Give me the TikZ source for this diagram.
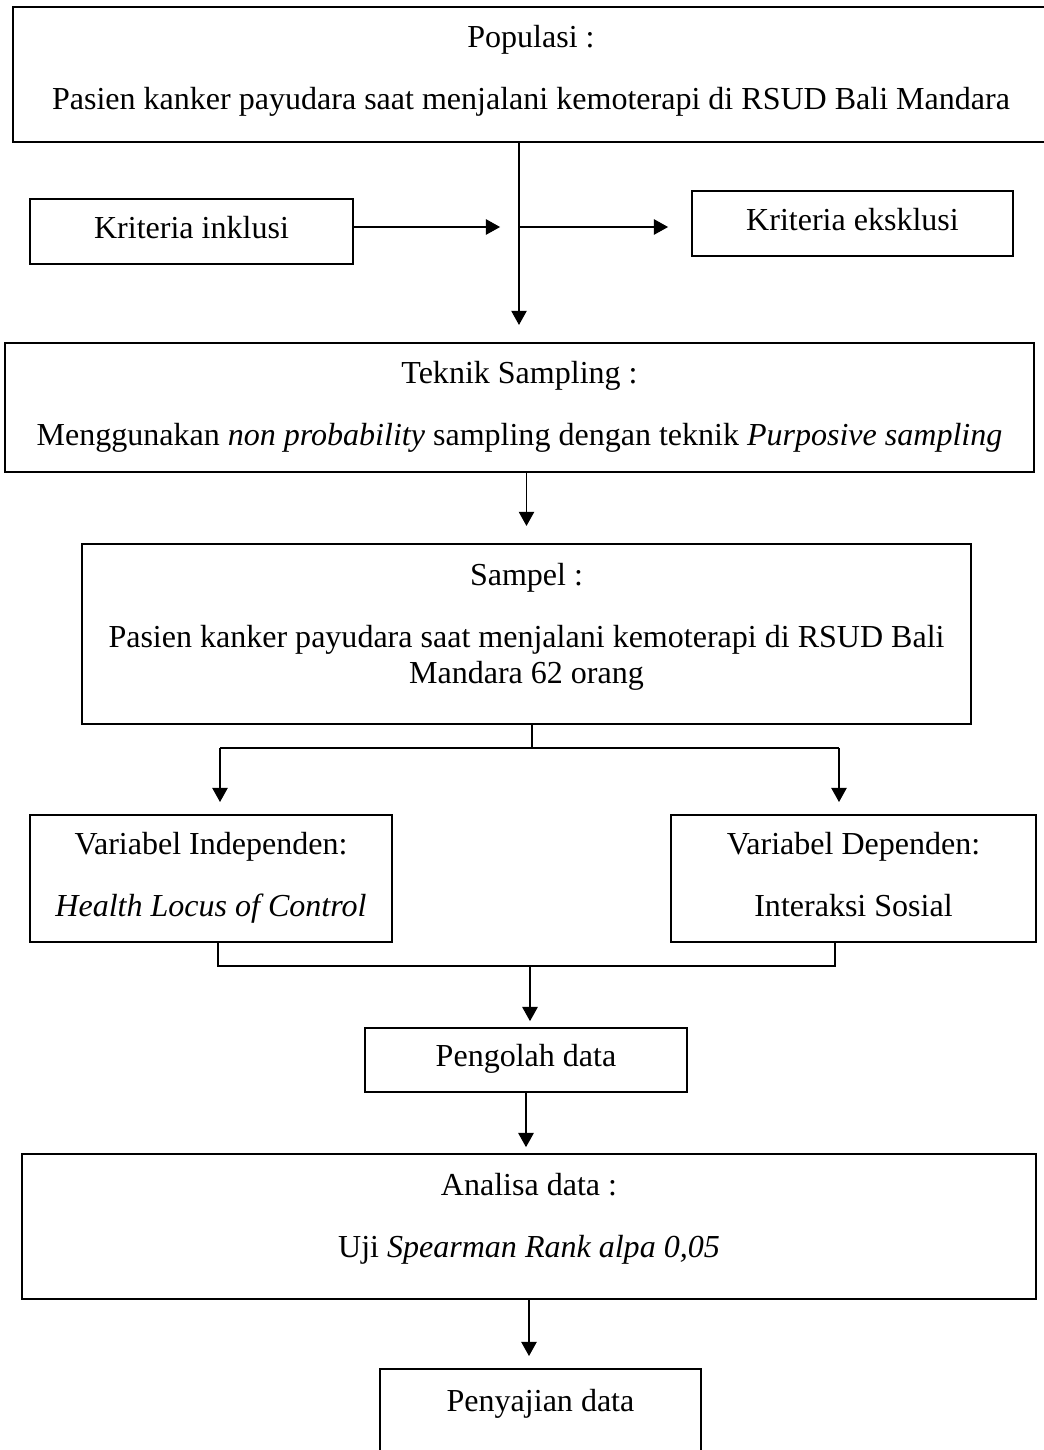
\documentclass[tikz,border=0pt]{standalone}
\usepackage{fontspec}
\setmainfont{Liberation Serif}
\usetikzlibrary{arrows.meta}

% one pixel of the layout grid
\def\pxu{0.3747pt}

\tikzset{
  box/.style={draw, line width=0.75pt, align=center, font=\fontsize{12}{13.5}\selectfont},
  onebox/.style={box, text height=8pt, text depth=3pt},
  link/.style={line width=0.4pt},
  arr/.style={link, -{Triangle[length=5.3pt, width=5.8pt]}}
}

\begin{document}
\begin{tikzpicture}[x=\pxu, y=-\pxu]

\useasboundingbox (0,0) rectangle (1043,1450);

% Boxes
\node[box, minimum width=1036*\pxu, minimum height=135*\pxu, text depth=5.6pt] (pop) at (531,74.5)
    {Populasi :\\[9.7pt]Pasien kanker payudara saat menjalani kemoterapi di RSUD Bali Mandara};
\node[onebox, minimum width=323*\pxu, minimum height=65*\pxu] (inkl) at (191.5,231.5) {Kriteria inklusi};
\node[onebox, minimum width=321*\pxu, minimum height=65*\pxu] (eksk) at (852.5,223.5) {Kriteria eksklusi};
\node[box, minimum width=1029*\pxu, minimum height=129*\pxu, text depth=2.8pt] (tek) at (519.5,407.5)
    {Teknik Sampling :\\[9.7pt]Menggunakan \textit{non probability} sampling dengan teknik \textit{Purposive sampling}};
\node[box, minimum width=889*\pxu, minimum height=180*\pxu, text depth=8.2pt] (sam) at (526.5,634)
    {Sampel :\\[9.7pt]Pasien kanker payudara saat menjalani kemoterapi di RSUD Bali\\Mandara 62 orang};
\node[box, minimum width=362*\pxu, minimum height=127*\pxu, text depth=2.8pt] (vind) at (211,878.5)
    {Variabel Independen:\\[9.7pt]\textit{Health Locus of Control}};
\node[box, minimum width=365*\pxu, minimum height=127*\pxu, text depth=2.8pt] (vdep) at (853.5,878.5)
    {Variabel Dependen:\\[9.7pt]Interaksi Sosial};
\node[onebox, minimum width=322*\pxu, minimum height=64*\pxu] (olah) at (526,1060) {Pengolah data};
\node[box, minimum width=1014*\pxu, minimum height=145*\pxu, text depth=8.2pt] (anal) at (529,1226.5)
    {Analisa data :\\[9.7pt]Uji \textit{Spearman Rank alpa 0,05}};
\node[box, minimum width=321*\pxu, text height=8pt, text depth=40pt, inner ysep=8.1pt, anchor=north] (saji) at (540.5,1368)
    {Penyajian data};

% Junction points
\coordinate (junc) at (519,227);
\coordinate (fork) at (532,748);
\coordinate (forkL) at (220,748);
\coordinate (forkR) at (839,748);
\coordinate (join) at (530,966);
\coordinate (joinL) at (218,966);
\coordinate (joinR) at (835,966);

% Connectors
\draw[arr, shorten >=6.4pt] (pop.south -| junc) -- (tek.north -| junc);
\draw[arr, shorten >=7.1pt] (inkl.east |- junc) -- (junc);
\draw[arr, shorten >=8.6pt] (junc) -- (eksk.west |- junc);
\draw[arr, shorten >=6.4pt] (tek.south -| sam.north) -- (sam.north);
\draw[link] (sam.south -| fork) -- (fork);
\draw[link] (forkL) -- (forkR);
\draw[arr, shorten >=4.5pt] (forkL) -- (vind.north -| forkL);
\draw[arr, shorten >=4.5pt] (forkR) -- (vdep.north -| forkR);
\draw[link] (vind.south -| joinL) -- (joinL) -- (joinR) -- (vdep.south -| joinR);
\draw[arr, shorten >=2.2pt] (join) -- (olah.north -| join);
\draw[arr, shorten >=2.2pt] (olah.south) -- (anal.north -| olah.south);
\draw[arr, shorten >=4.5pt] (anal.south) -- (saji.north -| anal.south);

\end{tikzpicture}
\end{document}
